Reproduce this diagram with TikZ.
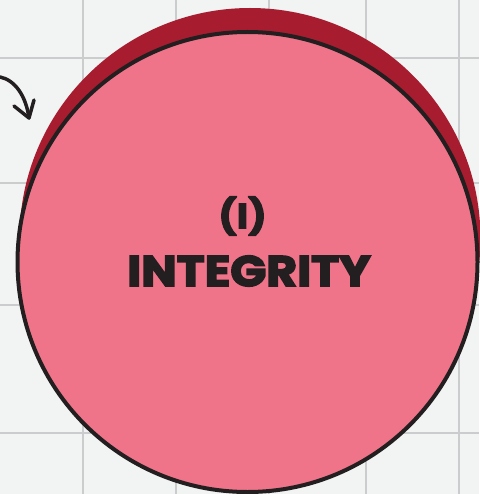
\documentclass[tikz,border=0pt]{standalone}
\usepackage{fontspec}
\setmainfont{Poppins}[BoldFeatures={FakeBold=3.5}]
\definecolor{paper}{HTML}{F2F3F3}
\definecolor{gridline}{HTML}{CBCCCD}
\definecolor{pinkfill}{HTML}{F07489}
\definecolor{shadowred}{HTML}{A81C30}
\definecolor{ink}{HTML}{231F20}
\tikzset{
  gridstroke/.style={draw=gridline, line width=1.2pt},
  inkstroke/.style={draw=ink, line width=3.5pt, line cap=round, line join=round},
  labeltext/.style={text=ink, font=\bfseries, inner sep=0pt}
}
\begin{document}
\begin{tikzpicture}[x=1pt,y=-1pt]
\fill[paper] (0,0) rectangle (479,494);
\useasboundingbox (0,0) rectangle (479,494);
% grid
\foreach \gx in {83,176,269,366,459} \draw[gridstroke] (\gx,0) -- (\gx,494);
\foreach \gy in {58,183,305,433} \draw[gridstroke] (0,\gy) -- (479,\gy);
% shadow circle
\fill[shadowred] (250,238.5) circle[radius=230.5];
% main circle
\node[circle, minimum size=460pt, inner sep=0pt, fill=pinkfill, draw=ink, line width=4pt] (main) at (247.5,262) {};
% labels
\node[labeltext, font=\bfseries\fontsize{35}{35}\selectfont] (num) at (242.5,216) {\scalebox{1.1}[1]{(I)}};
\node[labeltext, font=\bfseries\fontsize{43}{43}\selectfont] (title) at (249,271) {\scalebox{1.1}[1]{INTEGRITY}};
% arrow
\coordinate (astart) at (0,77);
\coordinate (atip) at (29,118);
\coordinate (abarbl) at (14,106);
\coordinate (abarbr) at (34,100);
\draw[inkstroke] (astart) .. controls (15,80) and (26,96) .. (atip);
\draw[inkstroke] (abarbl) -- (atip) -- (abarbr);
\end{tikzpicture}
\end{document}
